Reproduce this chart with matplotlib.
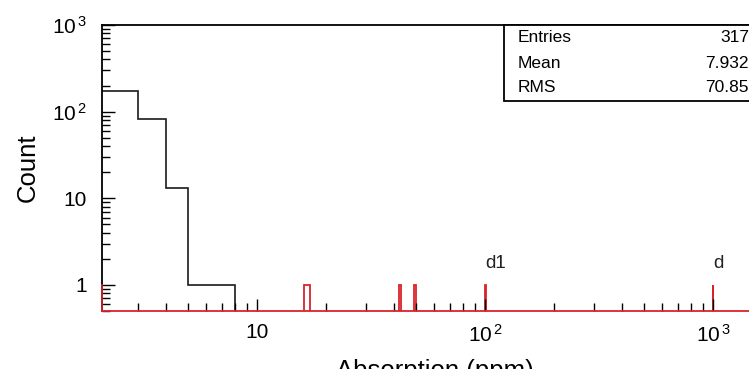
import numpy as np
import matplotlib.pyplot as plt
from matplotlib.patches import Rectangle
from matplotlib.ticker import FixedLocator, FixedFormatter, LogLocator, NullFormatter

plt.rcParams["font.family"] = ["Liberation Sans", "DejaVu Sans"]
plt.rcParams["mathtext.fontset"] = "custom"
plt.rcParams["mathtext.rm"] = "Liberation Sans"
plt.rcParams["mathtext.it"] = "Liberation Sans:italic"

# black histogram (bin edges in ppm, counts)
black_edges = [2, 3, 4, 5, 6, 7, 8]
black_counts = [175, 83, 13, 1, 1, 1]

# red histogram: single entries
red_lo = [16, 42, 49, 100, 1000]
red_hi = [17, 43, 50, 101, 1001]
red_counts = [1, 1, 1, 1, 1]

# markers above red lines
marker_x = [100, 1000]
marker_text = ["d1", "d"]

# stats box
stat_names = ["Entries", "Mean", "RMS"]
stat_values = ["317", "7.932", "70.85"]

x_ticks = [10, 100, 1000]
x_ticklabels = ["10", r"$\mathregular{10^{\,2}}$", r"$\mathregular{10^{\,3}}$"]
y_ticks = [1, 10, 100, 1000]
y_ticklabels = ["1", "10", r"$\mathregular{10^{\,2}}$", r"$\mathregular{10^{\,3}}$"]

W, H = 749, 369
xmin, xmax = 2.09, 2500
ymin, ymax = 0.5, 1000
px_decade = 228
red = "#d8232c"

fig = plt.figure(figsize=(W / 100, H / 100), dpi=100)
left, top, bottom = 102, 25, 311
width = px_decade * np.log10(xmax / xmin)
ax = fig.add_axes([left / W, (H - bottom) / H, width / W, (bottom - top) / H])

ax.set_xscale("log")
ax.set_yscale("log")
ax.set_xlim(xmin, xmax)
ax.set_ylim(ymin, ymax)

ax.stairs(black_counts, black_edges, baseline=0.1, color="#1a1a1a", linewidth=1.2)
for lo, hi, c in zip(red_lo, red_hi, red_counts):
    ax.stairs([c], [lo, hi], baseline=0.1, color=red, linewidth=1.3)
ax.plot([xmin, xmin], [ymin, 1], color=red, linewidth=1.2, clip_on=False, zorder=5)

for mx, mt in zip(marker_x, marker_text):
    ax.text(mx, 1.55, mt, fontsize=13.5, ha="left", va="baseline", color="#222222")

ax.spines["right"].set_visible(False)
for s in ["left", "top"]:
    ax.spines[s].set_linewidth(1.3)
ax.spines["bottom"].set_color(red)
ax.spines["bottom"].set_linewidth(1.3)

ax.xaxis.set_major_locator(FixedLocator(x_ticks))
ax.xaxis.set_major_formatter(FixedFormatter(x_ticklabels))
ax.xaxis.set_minor_locator(LogLocator(base=10, subs=np.arange(2, 10)))
ax.xaxis.set_minor_formatter(NullFormatter())
ax.yaxis.set_major_locator(FixedLocator(y_ticks))
ax.yaxis.set_major_formatter(FixedFormatter(y_ticklabels))
ax.yaxis.set_minor_locator(LogLocator(base=10, subs=np.arange(2, 10)))
ax.yaxis.set_minor_formatter(NullFormatter())

ax.tick_params(which="both", direction="in", top=False, right=False, color="black", width=1)
ax.tick_params(which="major", length=9, labelsize=15)
ax.tick_params(axis="x", which="major", pad=9)
ax.tick_params(axis="y", which="major", pad=11)
ax.tick_params(which="minor", length=5.5)

fig.text(28 / W, 1 - 168 / H, "Count", rotation=90, ha="center", va="center", fontsize=18.5)
fig.text(435 / W, 1 - 378 / H, "Absorption (ppm)", ha="center", va="baseline", fontsize=18.5)

# stats box
box = Rectangle((504 / W, 1 - 101 / H), 400 / W, 76 / H, transform=fig.transFigure,
                facecolor="white", edgecolor="black", linewidth=1.3, zorder=10)
fig.patches.append(box)
for i, (name, val) in enumerate(zip(stat_names, stat_values)):
    yy = 1 - (38 + 25 * i) / H
    fig.text(518 / W, yy, name, ha="left", va="center", fontsize=12.5, zorder=11)
    fig.text(749 / W, yy, val, ha="right", va="center", fontsize=12.5, zorder=11)

fig.savefig("out.png", dpi=100)
